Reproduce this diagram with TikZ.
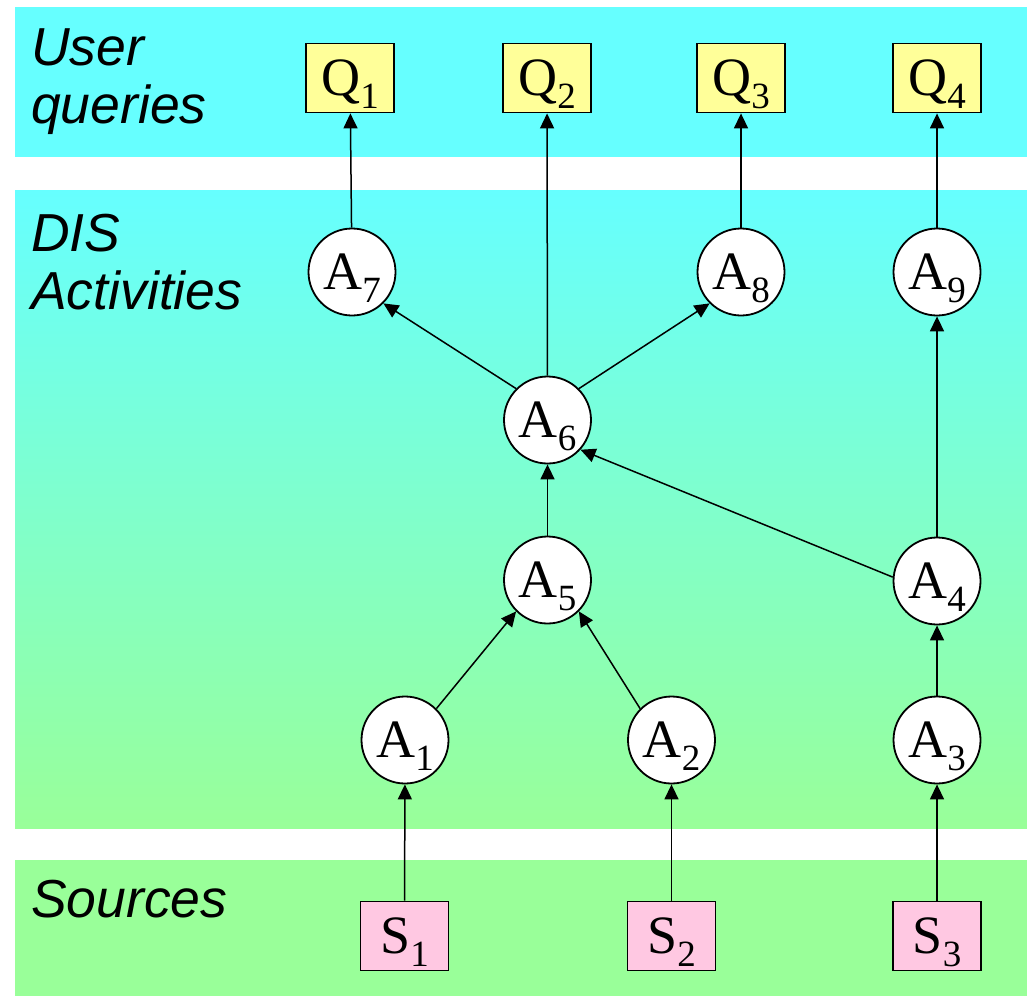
\documentclass[tikz,border=0pt]{standalone}
\usepackage{fontspec}
\setmainfont{Liberation Serif}
\setsansfont{Liberation Sans}
\usetikzlibrary{arrows.meta}

\definecolor{bandcyan}{RGB}{102,255,255}
\definecolor{bandgreen}{RGB}{153,255,153}
\definecolor{queryfill}{RGB}{255,255,153}
\definecolor{sourcefill}{RGB}{255,200,226}

% letter with a lowered subscript digit
\newcommand\sublbl[2]{#1\smash{\raisebox{-13pt}{\fontsize{37}{37}\selectfont #2}}}

\begin{document}
\begin{tikzpicture}[x=1pt,y=-1pt,
  activity/.style={circle,draw,fill=white,line width=1.8pt,minimum size=87pt,
    inner sep=0pt,text height=35pt,text depth=0pt,font=\fontsize{54}{54}\selectfont},
  query/.style={rectangle,draw,fill=queryfill,line width=1.8pt,minimum width=88pt,
    minimum height=69pt,inner sep=0pt,text height=35pt,text depth=0pt,
    font=\fontsize{54}{54}\selectfont},
  source/.style={query,fill=sourcefill},
  flow/.style={line width=1.5pt,-{Triangle[length=15pt,width=14pt]}},
  bandlabel/.style={anchor=base west,inner sep=0pt,
    font=\sffamily\itshape\fontsize{53.5}{60}\selectfont}]
\useasboundingbox (0,0) rectangle (1027,998);

% background bands
\fill[bandcyan] (15,7) rectangle (1027,157);
\shade[top color=bandcyan,bottom color=bandgreen] (15,190) rectangle (1027,828);
\fill[bandgreen] (15,860) rectangle (1027,996);

% band titles
\node[bandlabel] (tUser) at (31,65) {User};
\node[bandlabel] (tQueries) at (31,123) {queries};
\node[bandlabel] (tDIS) at (31,251) {DIS};
\node[bandlabel] (tAct) at (31,309) {Activities};
\node[bandlabel] (tSrc) at (31,917) {Sources};

% queries
\node[query] (Q1) at (350,78) {\sublbl{Q}{1}};
\node[query] (Q2) at (547,78) {\sublbl{Q}{2}};
\node[query] (Q3) at (741,78) {\sublbl{Q}{3}};
\node[query] (Q4) at (937,78) {\sublbl{Q}{4}};

% activities
\node[activity] (A7) at (352,272) {\sublbl{A}{7}};
\node[activity] (A8) at (741,272) {\sublbl{A}{8}};
\node[activity] (A9) at (937,272) {\sublbl{A}{9}};
\node[activity] (A6) at (547.5,420) {\sublbl{A}{6}};
\node[activity] (A5) at (547.5,580) {\sublbl{A}{5}};
\node[activity] (A4) at (937,581) {\sublbl{A}{4}};
\node[activity] (A1) at (405,740) {\sublbl{A}{1}};
\node[activity] (A2) at (671.5,740) {\sublbl{A}{2}};
\node[activity] (A3) at (937,740) {\sublbl{A}{3}};

% sources
\node[source] (S1) at (404.5,936) {\sublbl{S}{1}};
\node[source] (S2) at (671.5,936) {\sublbl{S}{2}};
\node[source] (S3) at (937,936) {\sublbl{S}{3}};

% data flow
\draw[flow] (S1) -- (A1);
\draw[flow] (S2) -- (A2);
\draw[flow] (S3) -- (A3);
\draw[flow] (A1.45) -- (A5.-135);
\draw[flow] (A2.135) -- (A5.-45);
\draw[flow] (A3) -- (A4);
\draw[flow] (A5) -- (A6);
\draw[flow] (A4.175) -- (A6.-42);
\draw[flow] (A4) -- (A9);
\draw[flow] (A6.135) -- (A7.-45);
\draw[flow] (A6.45) -- (A8.-135);
\draw[flow] (A6) -- (Q2);
\draw[flow] (A7) -- (Q1);
\draw[flow] (A8) -- (Q3);
\draw[flow] (A9) -- (Q4);
\end{tikzpicture}
\end{document}
